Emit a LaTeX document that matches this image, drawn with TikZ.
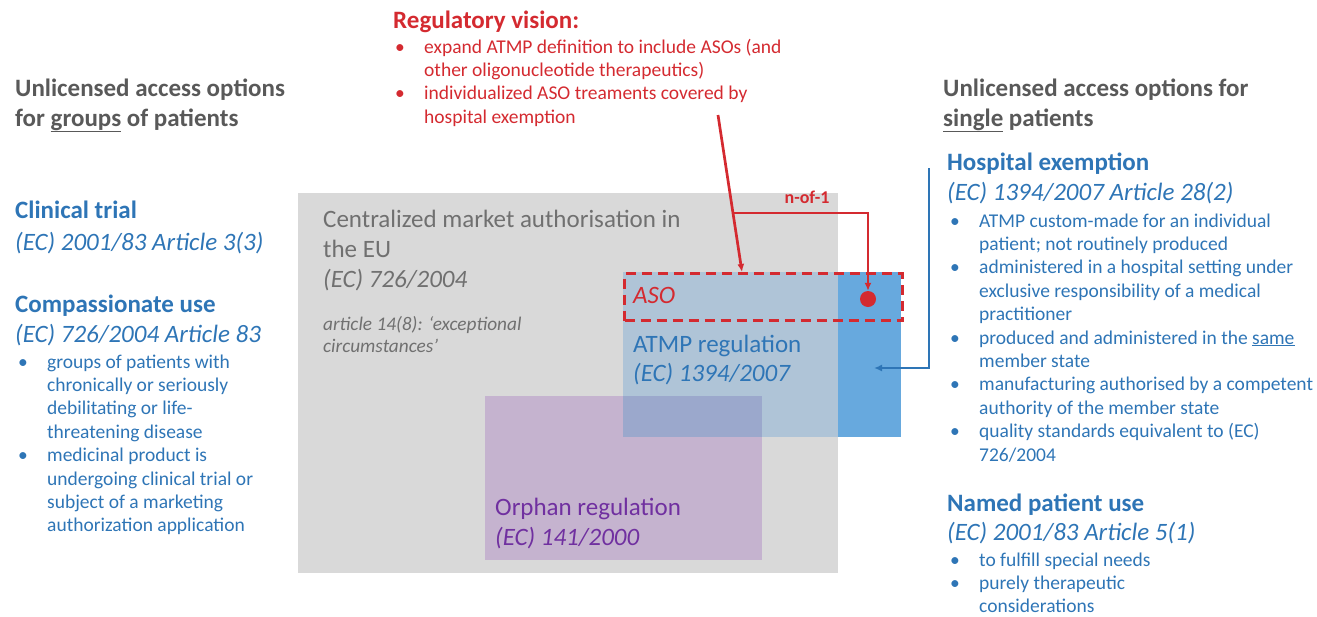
\documentclass[tikz,border=0pt]{standalone}
\usepackage{fontspec}
\setmainfont{Carlito}
\usetikzlibrary{positioning,calc,arrows.meta}
\definecolor{headgray}{HTML}{595959}
\definecolor{boxtext}{HTML}{707070}
\definecolor{regblue}{HTML}{2E75B6}
\definecolor{regred}{HTML}{D42A30}
\definecolor{regpurple}{HTML}{7030A0}
\definecolor{boxgray}{HTML}{D9D9D9}
\definecolor{boxpurple}{HTML}{C5B3CF}
\definecolor{boxblue}{HTML}{AFC4D7}
\definecolor{boxblueout}{HTML}{67A9DE}
\definecolor{boxmix}{HTML}{9BA8CC}
\newcommand{\bl}{\textbullet}
\newcommand{\rows}[1]{\begin{tabular}[t]{@{}l@{}}#1\end{tabular}}
\newcommand{\blist}[1]{\begin{tabular}[t]{@{}p{29pt}@{}l@{}}#1\end{tabular}}

\begin{document}
\begin{tikzpicture}[
      x=1pt, y=-1pt,
      >={Latex[length=8pt,width=7pt]},
      txt/.style={anchor=base west, inner sep=0pt},
      big/.style={txt, font=\fontsize{25}{30}\selectfont},
      bigbf/.style={txt, font=\bfseries\fontsize{25}{30}\selectfont},
      bigit/.style={txt, font=\itshape\fontsize{25}{30}\selectfont},
      small/.style={txt, font=\fontsize{19.5}{23.4}\selectfont},
      area/.style={rectangle, anchor=north west, inner sep=0pt, draw=none},
      redline/.style={draw=regred, line width=2.7pt},
      blueline/.style={draw=regblue, line width=2.6pt}
    ]
    \useasboundingbox (0,0) rectangle (1317,616);

    % regulation areas
    \node[area, fill=boxgray, minimum width=540pt, minimum height=380pt] (central) at (298,193) {};
    \node[area, fill=boxpurple, minimum width=277pt, minimum height=164pt] (orphan) at (485,396) {};
    \node[area, fill=boxblue, minimum width=215pt, minimum height=165pt] (atmp) at (623,272) {};
    \node[area, fill=boxblueout, minimum width=63pt, minimum height=165pt] (atmpout) at (838,272) {};
    \node[area, fill=boxmix, minimum width=139pt, minimum height=41pt] (overlap) at (623,396) {};
    \node[area, draw=regred, line width=3.2pt, dash pattern=on 10pt off 6pt,
          minimum width=278pt, minimum height=47pt] (aso) at (623,272) {};

    % texts inside the areas
    \node[big, text=boxtext] (centralTitle) at (323,227)
      {\rows{Centralized market authorisation in\\the EU\\\itshape (EC) 726/2004}};
    \node[txt, text=boxtext, font=\itshape\fontsize{19.3}{22}\selectfont] (centralNote) at (323,330)
      {\rows{article 14(8): `exceptional\\circumstances'}};
    \node[bigit, text=regred] (asoText) at (633,303) {ASO};
    \node[big, text=regblue] (atmpTitle) at (633,352) {ATMP regulation};
    \node[bigit, text=regblue] (atmpRef) at (633,381) {(EC) 1394/2007};
    \node[big, text=regpurple] (orphanTitle) at (495,515) {Orphan regulation};
    \node[bigit, text=regpurple] (orphanRef) at (495,545) {(EC) 141/2000};

    % regulatory vision
    \node[bigbf, text=regred] (rvTitle) at (393,28) {Regulatory vision:};
    \node[small, text=regred] (rvList) at (395,53)
      {\blist{\bl & expand ATMP definition to include ASOs (and\\
              & other oligonucleotide therapeutics)\\
              \bl & individualized ASO treaments covered by\\
              & hospital exemption}};

    % left column
    \node[bigbf, text=headgray] (leftHead) at (15,96)
      {\rows{Unlicensed access options\\for \underline{groups} of patients}};
    \node[bigbf, text=regblue] (ctTitle) at (15,218) {Clinical trial};
    \node[bigit, text=regblue] (ctRef) at (15,250) {(EC) 2001/83 Article 3(3)};
    \node[bigbf, text=regblue] (cuTitle) at (15,312) {Compassionate use};
    \node[bigit, text=regblue] (cuRef) at (15,342) {(EC) 726/2004 Article 83};
    \node[small, text=regblue] (cuList) at (18,368)
      {\blist{\bl & groups of patients with\\
              & chronically or seriously\\
              & debilitating or life-\\
              & threatening disease\\
              \bl & medicinal product is\\
              & undergoing clinical trial or\\
              & subject of a marketing\\
              & authorization application}};

    % right column
    \node[bigbf, text=headgray] (rightHead) at (943,96)
      {\rows{Unlicensed access options for\\\underline{single} patients}};
    \node[bigbf, text=regblue] (heTitle) at (947,170) {Hospital exemption};
    \node[bigit, text=regblue] (heRef) at (947,200) {(EC) 1394/2007 Article 28(2)};
    \node[small, text=regblue] (heList) at (950,227)
      {\blist{\bl & ATMP custom-made for an individual\\
              & patient; not routinely produced\\
              \bl & administered in a hospital setting under\\
              & exclusive responsibility of a medical\\
              & practitioner\\
              \bl & produced and administered in the \underline{same}\\
              & member state\\
              \bl & manufacturing authorised by a competent\\
              & authority of the member state\\
              \bl & quality standards equivalent to (EC)\\
              & 726/2004}};
    \node[bigbf, text=regblue] (npTitle) at (947,511) {Named patient use};
    \node[bigit, text=regblue] (npRef) at (947,540) {(EC) 2001/83 Article 5(1)};
    \node[small, text=regblue] (npList) at (950,566)
      {\blist{\bl & to fulfill special needs\\
              \bl & purely therapeutic\\
              & considerations}};

    % connectors
    \coordinate (rvFoot) at (718,115);
    \coordinate (asoIn) at (742,272);
    \coordinate (branch) at ($(rvFoot)!0.624!(asoIn)$);
    \node[circle, fill=regred, inner sep=0pt, minimum size=16pt] (dot) at (868,299) {};
    \node[txt, text=regred, font=\bfseries\fontsize{18}{22}\selectfont, anchor=base] (nof1) at (807,203) {n-of-1};
    \draw[redline, ->] (rvFoot) -- (asoIn);
    \draw[redline, ->] (branch) -| (dot);

    \coordinate (heLink) at (929,168);
    \coordinate (atmpIn) at (874,368);
    \draw[blueline, ->] (heLink) |- (atmpIn);

  \end{tikzpicture}
\end{document}
